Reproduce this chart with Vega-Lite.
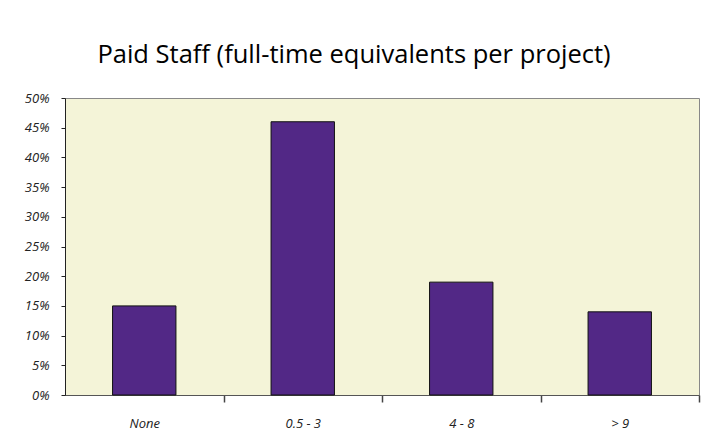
{
  "$schema": "https://vega.github.io/schema/vega-lite/v6.json",
  "width": 634,
  "height": 297,
  "padding": {"left": 24, "top": 42, "right": 11, "bottom": 10},
  "background": "white",
  "title": {
    "text": "Paid Staff (full-time equivalents per project)",
    "font": "Open Sans",
    "fontSize": 25.5,
    "fontWeight": 500,
    "color": "#000000",
    "anchor": "middle",
    "offset": 24,
    "dx": -28
  },
  "data": {
    "values": [
      {"category": "None", "share": 0.15},
      {"category": "0.5 - 3", "share": 0.46},
      {"category": "4 - 8", "share": 0.19},
      {"category": "> 9", "share": 0.14}
    ]
  },
  "mark": {"type": "bar", "color": "#522886", "stroke": "#111111", "strokeWidth": 1},
  "encoding": {
    "x": {
      "field": "category",
      "type": "nominal",
      "sort": null,
      "scale": {"paddingInner": 0.6, "paddingOuter": 0.3},
      "axis": {
        "title": null,
        "labelAngle": 0,
        "labelFont": "Open Sans",
        "labelFontStyle": "italic",
        "labelFontSize": 13,
        "labelColor": "#222222",
        "labelPadding": 15,
        "ticks": true,
        "tickOffset": 79.25,
        "labelOffset": -79.25,
        "tickSize": 7,
        "tickWidth": 1.5,
        "tickColor": "#444444",
        "domainColor": "#555555",
        "grid": false
      }
    },
    "y": {
      "field": "share",
      "type": "quantitative",
      "scale": {"domain": [0, 0.5]},
      "axis": {
        "title": null,
        "format": ".0%",
        "values": [0, 0.05, 0.1, 0.15, 0.2, 0.25, 0.3, 0.35, 0.4, 0.45, 0.5],
        "labelFont": "Open Sans",
        "labelFontStyle": "italic",
        "labelFontSize": 13,
        "labelColor": "#222222",
        "labelPadding": 12,
        "tickSize": 4,
        "tickColor": "#222222",
        "domainColor": "#222222",
        "grid": false,
        "minExtent": 40,
        "maxExtent": 40
      }
    }
  },
  "config": {
    "view": {"fill": "#F4F4D8", "stroke": "#888888", "strokeWidth": 1}
  }
}
